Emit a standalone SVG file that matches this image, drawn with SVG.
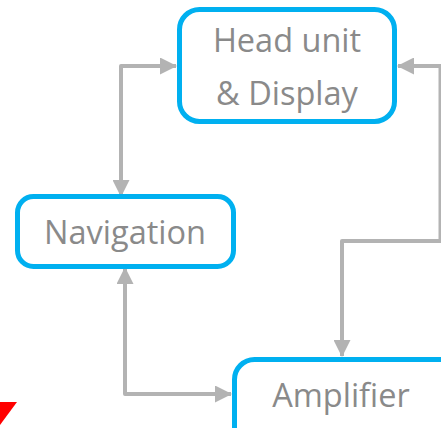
<svg xmlns="http://www.w3.org/2000/svg" width="441" height="428" viewBox="0 0 441 428">
<style>
.box{fill:#fff;stroke:#00b0f0;stroke-width:5}
.lbl{font-family:"Open Sans","Liberation Sans",sans-serif;font-size:32.5px;fill:#8a8a8a;text-anchor:middle}
.con{fill:none;stroke:#b3b3b3;stroke-width:4;stroke-linejoin:round}
</style>
<defs>
<marker id="ah" markerUnits="userSpaceOnUse" markerWidth="17" markerHeight="17" refX="16" refY="8.5" orient="auto-start-reverse" viewBox="0 0 17 17">
<path d="M0,0 L17,8.5 L0,17 Z" fill="#b3b3b3"/>
</marker>
</defs>
<rect width="441" height="428" fill="#fff"/>
<g id="connectors">
<path class="con" d="M121,196 L121,66 L176,66" marker-start="url(#ah)" marker-end="url(#ah)"/>
<path class="con" d="M441,66 L398,66" marker-end="url(#ah)"/>
<path class="con" d="M440.5,66 L440.5,241 L342,241 L342,356" marker-end="url(#ah)"/>
<path class="con" d="M125,268 L125,394 L231,394" marker-start="url(#ah)" marker-end="url(#ah)"/>
</g>
<g id="head-unit">
<rect class="box" x="179.5" y="9.5" width="215" height="112" rx="20"/>
<text class="lbl" x="287" y="52">Head unit</text>
<text class="lbl" x="287" y="105">&amp; Display</text>
</g>
<g id="navigation">
<rect class="box" x="17.5" y="196.5" width="216" height="70" rx="16"/>
<text class="lbl" x="125" y="244">Navigation</text>
</g>
<g id="amplifier">
<rect class="box" x="234.5" y="359.5" width="240" height="100" rx="20"/>
<text class="lbl" x="341" y="407">Amplifier</text>
</g>
<polygon points="0,402 17,402 0,425" fill="#ff0000"/>
</svg>
